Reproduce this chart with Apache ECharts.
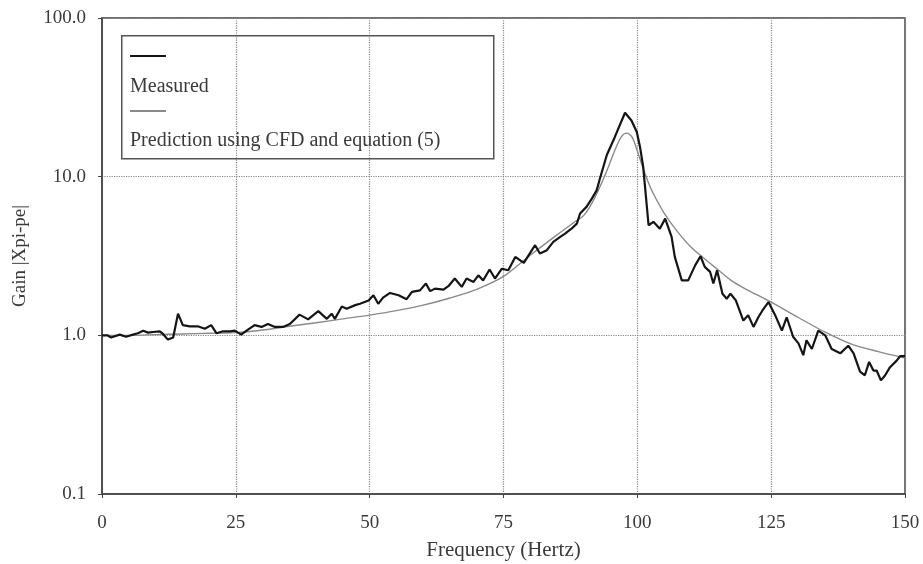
<!DOCTYPE html>
<html>
<head>
<meta charset="utf-8">
<script src="https://cdn.jsdelivr.net/npm/echarts@6/dist/echarts.min.js"></script>
<style>
  html, body { margin: 0; padding: 0; background: #fff; }
  #chart { width: 923px; height: 564px; }
</style>
</head>
<body>
<div id="chart"></div>
<script>
// measured gain
var freqMeasured = [0, 1.0, 1.7, 3.3, 4.5, 5.8, 6.7, 7.7, 8.6, 9.5, 10.8, 11.4, 12.3, 13.3, 14.2, 15.1, 16.4, 17.9, 19.2, 20.4,
    21.4, 22.6, 23.9, 24.8, 26.0, 27.0, 28.5, 29.8, 31.0, 32.3, 33.8, 35.1, 36.9, 38.5, 40.4, 42.0, 42.9, 43.5, 44.8, 45.7,
    47.3, 48.2, 49.8, 50.7, 51.6, 52.5, 53.8, 55.4, 56.9, 57.9, 59.4, 60.5, 61.3, 62.2, 63.8, 64.7, 65.9, 67.2, 68.1, 69.4,
    70.3, 71.2, 72.4, 73.4, 74.7, 75.9, 77.2, 78.8, 80.9, 81.8, 83.1, 84.3, 85.6, 86.5, 87.7, 88.7, 89.3, 90.5, 91.5, 92.4,
    93.0, 94.3, 95.8, 97.7, 98.9, 99.9, 100.5, 101.1, 102.1, 103.0, 104.2, 105.2, 106.4, 107.0, 108.3, 109.5, 110.8, 111.8,
    112.6, 113.6, 114.2, 114.9, 115.9, 116.7, 117.4, 118.4, 119.8, 120.7, 121.7, 122.6, 123.4, 124.5, 125.7, 127.0, 127.9,
    129.1, 130.1, 131.0, 131.6, 132.6, 133.8, 135.1, 136.3, 137.9, 139.4, 140.4, 141.6, 142.5, 143.3, 144.1, 144.7, 145.5,
    146.3, 147.2, 148.4, 149.1, 150];
var gainMeasured = [1.0, 1.0, 0.97, 1.01, 0.98, 1.01, 1.03, 1.07, 1.04, 1.05, 1.06, 1.02, 0.94, 0.97, 1.37, 1.16, 1.14, 1.14, 1.10, 1.16,
    1.03, 1.06, 1.06, 1.07, 1.01, 1.07, 1.16, 1.13, 1.18, 1.13, 1.13, 1.18, 1.35, 1.26, 1.42, 1.27, 1.37, 1.27, 1.52, 1.47,
    1.55, 1.58, 1.66, 1.79, 1.58, 1.73, 1.85, 1.79, 1.69, 1.88, 1.92, 2.12, 1.90, 1.97, 1.94, 2.04, 2.28, 2.02, 2.28, 2.17,
    2.39, 2.22, 2.60, 2.28, 2.63, 2.57, 3.12, 2.86, 3.70, 3.28, 3.44, 3.88, 4.17, 4.38, 4.70, 5.06, 5.86, 6.45, 7.27, 8.2,
    9.7, 13.7, 17.8, 25.3, 22.6, 19.1, 15.4, 11.5, 4.94, 5.19, 4.70, 5.44, 4.17, 3.12, 2.22, 2.22, 2.76, 3.15,
    2.70, 2.51, 2.12, 2.57, 1.83, 1.70, 1.83, 1.66, 1.24, 1.34, 1.13, 1.30, 1.44, 1.62, 1.35, 1.07, 1.30,
    0.98, 0.89, 0.75, 0.93, 0.82, 1.07, 1.00, 0.82, 0.77, 0.86, 0.77, 0.59, 0.56, 0.68, 0.60, 0.60, 0.52,
    0.56, 0.63, 0.69, 0.74, 0.74];

// prediction (CFD + equation 5)
var freqPredicted = [0, 5, 10, 15, 20, 25, 30, 35, 40, 45, 50, 55, 60, 65, 70, 75, 80, 85, 88, 90, 92, 94, 95, 96, 97, 98, 99,
    100, 101, 102, 103, 105, 107.5, 110, 112.5, 115, 117.5, 120, 125, 130, 135, 140, 145, 150];
var gainPredicted = [1.0, 1.0, 1.01, 1.02, 1.03, 1.04, 1.08, 1.14, 1.2, 1.27, 1.34, 1.43, 1.55, 1.72, 1.95, 2.35, 3.2, 4.3, 5.1, 5.7,
    7.3, 10.3, 12.5, 15.2, 17.8, 18.8, 17.8, 14.5, 11.5, 9.3, 7.8, 5.9, 4.5, 3.6, 3.05, 2.6, 2.22, 1.98, 1.62, 1.3, 1.05,
    0.88, 0.79, 0.72];

var xTicks = [0, 25, 50, 75, 100, 125, 150];
var seriesNames = ['Measured', 'Prediction using CFD and equation (5)'];

var fontName = 'Liberation Serif';
var textCol = '#3a3a3a';

function pairs(xs, ys) {
    var out = [];
    for (var i = 0; i < xs.length; i++) {
        out.push([xs[i], ys[i]]);
    }
    return out;
}

var myChart = echarts.init(document.getElementById('chart'), null, {renderer: 'canvas'});

var option = {
    animation: false,
    backgroundColor: '#fff',
    grid: {
        left: 102, right: 18, top: 18, bottom: 70,
        outerBoundsMode: 'none',
        containLabel: false,
        show: true,
        borderColor: '#444',
        borderWidth: 1.5
    },
    legend: {
        orient: 'vertical',
        left: 125,
        top: 50,
        itemWidth: 36,
        itemHeight: 2,
        itemGap: 53,
        formatter: function () { return ''; },
        data: [
            {name: seriesNames[0], icon: 'rect', itemStyle: {color: '#151515'}},
            {name: seriesNames[1], icon: 'rect', itemStyle: {color: '#8a8a8a'}}
        ]
    },
    xAxis: {
        type: 'value',
        min: 0,
        max: 150,
        interval: 25,
        name: 'Frequency (Hertz)',
        nameLocation: 'middle',
        nameGap: 46,
        nameTextStyle: {fontFamily: fontName, fontSize: 21, color: textCol},
        axisLine: {onZero: false, lineStyle: {color: '#444', width: 1.5}},
        axisTick: {show: true, length: 4, inside: false, lineStyle: {color: '#444'}},
        axisLabel: {
            fontFamily: fontName, fontSize: 19, color: textCol, margin: 20,
            formatter: function (v) { return xTicks.indexOf(v) >= 0 ? String(v) : ''; }
        },
        splitLine: {show: true, lineStyle: {type: 'dotted', color: '#888', width: 1.2}}
    },
    yAxis: {
        type: 'log',
        logBase: 10,
        min: 0.1,
        max: 100,
        name: 'Gain |Xpi-pe|',
        nameLocation: 'middle',
        nameGap: 72,
        nameRotate: 90,
        nameTextStyle: {fontFamily: fontName, fontSize: 19, color: textCol},
        axisLine: {show: true, lineStyle: {color: '#444', width: 1.5}},
        axisTick: {show: true, length: 4, lineStyle: {color: '#444'}},
        axisLabel: {
            fontFamily: fontName, fontSize: 19, color: textCol, margin: 16,
            formatter: function (v) { return Number(v).toFixed(1); }
        },
        splitLine: {show: true, lineStyle: {type: 'dotted', color: '#888', width: 1.2}}
    },
    graphic: [
        {
            type: 'rect',
            left: 121, top: 35,
            shape: {width: 372, height: 123},
            style: {fill: 'rgba(255,255,255,0)', stroke: '#555', lineWidth: 1.5},
            z: 10
        },
        {
            type: 'text',
            left: 130, top: 77,
            style: {text: seriesNames[0], font: '20px "Liberation Serif"', fill: textCol},
            z: 11
        },
        {
            type: 'text',
            left: 130, top: 131,
            style: {text: seriesNames[1], font: '20px "Liberation Serif"', fill: textCol},
            z: 11
        }
    ],
    series: [
        {
            name: seriesNames[1],
            type: 'line',
            smooth: 0.3,
            symbol: 'none',
            lineStyle: {color: '#8a8a8a', width: 1.4},
            itemStyle: {color: '#8a8a8a'},
            data: pairs(freqPredicted, gainPredicted),
            z: 2
        },
        {
            name: seriesNames[0],
            type: 'line',
            symbol: 'none',
            lineStyle: {color: '#151515', width: 2.2},
            itemStyle: {color: '#151515'},
            data: pairs(freqMeasured, gainMeasured),
            z: 3
        }
    ]
};

myChart.setOption(option);
</script>
</body>
</html>
